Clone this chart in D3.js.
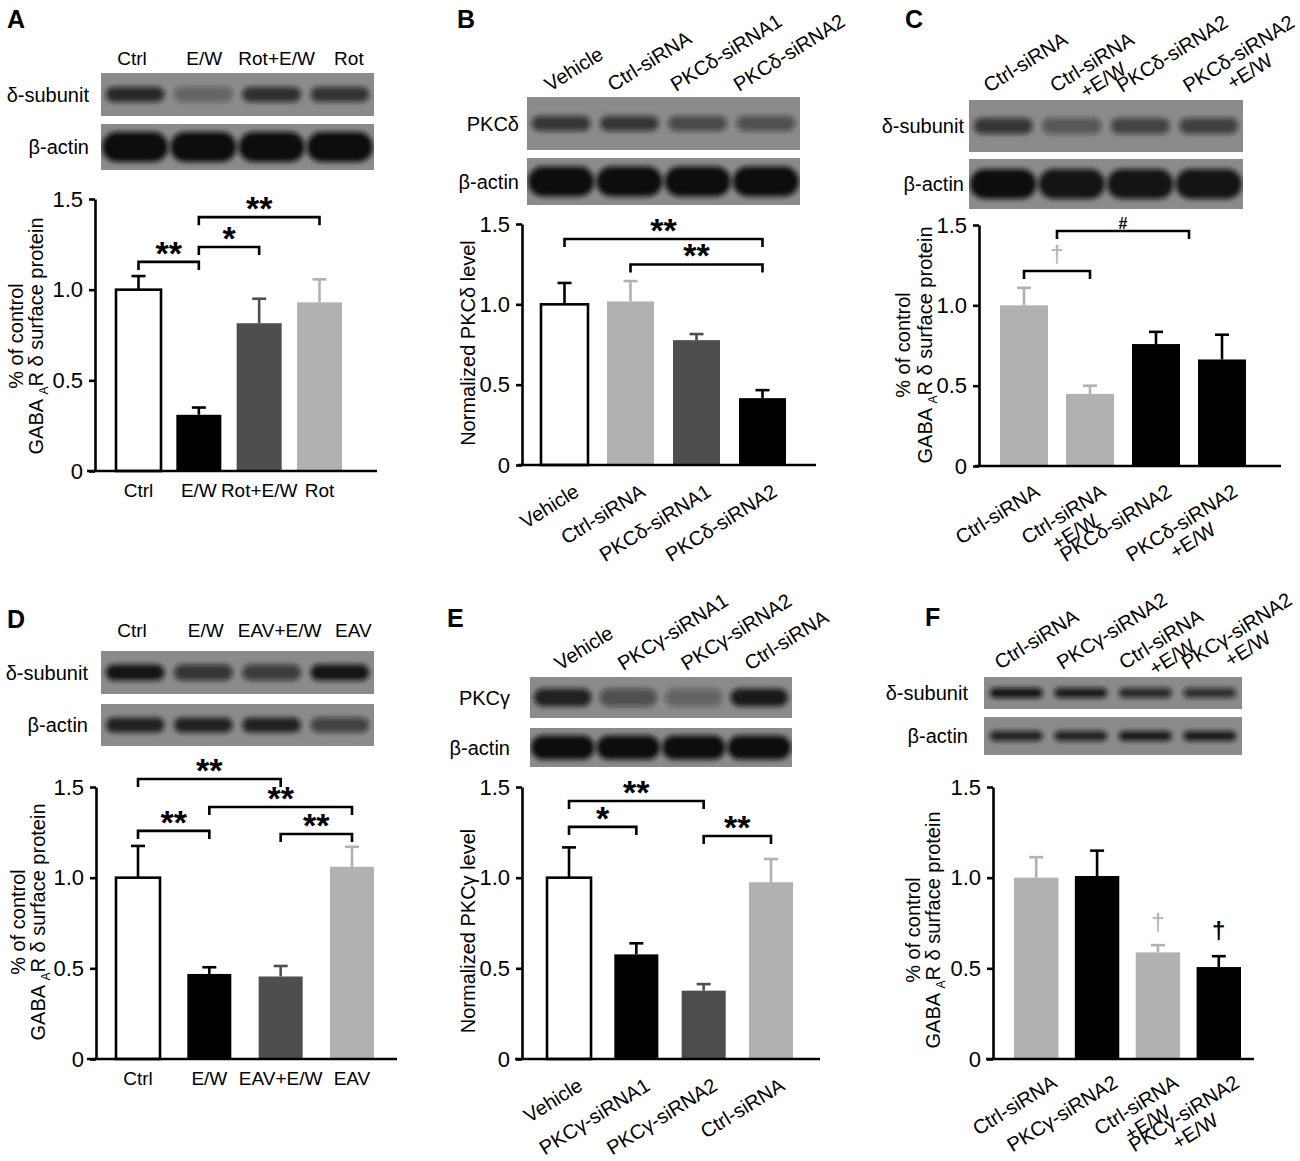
<!DOCTYPE html>
<html>
<head>
<meta charset="utf-8">
<script src="https://cdn.jsdelivr.net/npm/d3@7"></script>
<style>
  body { margin: 0; background: #fff; }
  text { font-family: "Liberation Sans", Arial, sans-serif; fill: #000; }
</style>
</head>
<body>
<svg id="fig" width="1300" height="1161"></svg>
<script>
// ---- data ----
const catA  = ['Ctrl', 'E/W', 'Rot+E/W', 'Rot'];
const meanA = [1.00, 0.31, 0.815, 0.93];
const semA  = [0.075, 0.04, 0.135, 0.127];
const sigA  = [[0, 1, '**'], [1, 2, '*'], [1, 3, '**']];
const blotA = [[0.8, 0.35, 0.75, 0.72], [1, 1, 1, 1]];

const catB  = ['Vehicle', 'Ctrl-siRNA', 'PKCδ-siRNA1', 'PKCδ-siRNA2'];
const meanB = [1.00, 1.018, 0.777, 0.416];
const semB  = [0.133, 0.127, 0.038, 0.05];
const sigB  = [[0, 3, '**'], [1, 3, '**']];
const blotB = [[0.7, 0.7, 0.55, 0.5], [1, 1, 1, 1]];

const catC  = ['Ctrl-siRNA', 'Ctrl-siRNA\n+E/W', 'PKCδ-siRNA2', 'PKCδ-siRNA2\n+E/W'];
const meanC = [1.00, 0.449, 0.759, 0.663];
const semC  = [0.109, 0.051, 0.076, 0.154];
const sigC  = [[0, 1, '†'], [0.5, 2.5, '#']];
const blotC = [[0.7, 0.45, 0.6, 0.62], [1, 0.95, 0.95, 0.95]];

const catD  = ['Ctrl', 'E/W', 'EAV+E/W', 'EAV'];
const meanD = [1.00, 0.469, 0.455, 1.06];
const semD  = [0.175, 0.037, 0.058, 0.11];
const sigD  = [[0, 2, '**'], [1, 3, '**'], [0, 1, '**'], [2, 3, '**']];
const blotD = [[0.95, 0.7, 0.65, 0.95], [0.85, 0.85, 0.85, 0.6]];

const catE  = ['Vehicle', 'PKCγ-siRNA1', 'PKCγ-siRNA2', 'Ctrl-siRNA'];
const meanE = [1.00, 0.577, 0.377, 0.975];
const semE  = [0.167, 0.061, 0.036, 0.128];
const sigE  = [[0, 2, '**'], [0, 1, '*'], [2, 3, '**']];
const blotE = [[0.85, 0.5, 0.35, 0.9], [1, 1, 1, 1]];

const catF  = ['Ctrl-siRNA', 'PKCγ-siRNA2', 'Ctrl-siRNA\n+E/W', 'PKCγ-siRNA2\n+E/W'];
const meanF = [1.00, 1.009, 0.588, 0.507];
const semF  = [0.113, 0.14, 0.04, 0.06];
const markF = [[2, '†'], [3, '†']];
const blotF = [[0.95, 0.9, 0.8, 0.75], [0.85, 0.85, 0.9, 0.9]];

const rowsDelta = ['δ-subunit', 'β-actin'];
const rowsPKCd  = ['PKCδ', 'β-actin'];
const rowsPKCg  = ['PKCγ', 'β-actin'];
const titleGABA = ['% of control', 'GABA_AR δ surface protein'];
const titlePKCd = ['Normalized PKCδ level'];
const titlePKCg = ['Normalized PKCγ level'];
const yTicks    = [0, 0.5, 1.0, 1.5];

// ---- styles ----
const FILL = { w: '#ffffff', k: '#000000', d: '#4e4e4e', l: '#b1b1b1' };
const SW = 2.6;

const svg  = d3.select('#fig');
const defs = svg.append('defs');
defs.append('filter').attr('id', 'blur')
    .attr('x', '-20%').attr('y', '-60%').attr('width', '140%').attr('height', '220%')
  .append('feGaussianBlur').attr('stdDeviation', 2.4);

// ---- layout per panel ----
const panels = [
  { id: 'A', cats: catA, mean: meanA, sem: semA, sig: sigA, blot: blotA, rows: rowsDelta, title: titleGABA,
    letter: [7, 28], colors: ['w', 'k', 'd', 'l'],
    rowBox: [[73, 116, 15, 0.86], [124, 170, 30, 0.97]], blotX: [101, 374], rowGap: 12,
    top: { mode: 'h', x0: 132, step: 72.3, y: 65 },
    chart: { axisX: 95, y0: 471, y1: 199, bars: [116, 342], pad: 0.254, xStart: 87, xEnd: 377 },
    bottom: { mode: 'h', y: 497 },
    titleX: [23, 43], titleY: 336, levels: [1.153, 1.235, 1.40] },
  { id: 'B', cats: catB, mean: meanB, sem: semB, sig: sigB, blot: blotB, rows: rowsPKCd, title: titlePKCd,
    letter: [457, 28], colors: ['w', 'l', 'd', 'k'],
    rowBox: [[97, 150, 15, 0.86], [158, 205, 30, 0.97]], blotX: [527, 800], rowGap: 8,
    top: { mode: 'r', x0: 550, step: 63, y: 92 },
    chart: { axisX: 522, y0: 465, y1: 224, bars: [541, 786], pad: 0.288, xStart: 518, xEnd: 816 },
    bottom: { mode: 'r', dx: 16, dy: 30 },
    titleX: [475], titleY: 343, levels: [1.407, 1.248] },
  { id: 'C', cats: catC, mean: meanC, sem: semC, sig: sigC, blot: blotC, rows: rowsDelta, title: titleGABA,
    letter: [905, 28], colors: ['l', 'l', 'k', 'k'],
    rowBox: [[100, 152, 16, 0.86], [159, 209, 30, 0.97]], blotX: [969, 1243], rowGap: 5,
    top: { mode: 'r', x0: 989, step: 66.5, y: 93 },
    chart: { axisX: 979, y0: 466, y1: 225, bars: [1000, 1246], pad: 0.273, xStart: 975, xEnd: 1281 },
    bottom: { mode: 'r', dx: 17, dy: 29 },
    titleX: [910, 932], titleY: 345, levels: [1.214, 1.463] },
  { id: 'D', cats: catD, mean: meanD, sem: semD, sig: sigD, blot: blotD, rows: rowsDelta, title: titleGABA,
    letter: [7, 628], colors: ['w', 'k', 'd', 'l'],
    rowBox: [[651, 694, 16, 0.86], [704, 746, 15, 0.86]], blotX: [101, 374], rowGap: 13,
    top: { mode: 'h', x0: 132, step: 73.8, y: 637 },
    chart: { axisX: 96, y0: 1059, y1: 787, bars: [116, 374], pad: 0.383, xStart: 87, xEnd: 397 },
    bottom: { mode: 'h', y: 1085 },
    titleX: [25, 45], titleY: 922, levels: [1.544, 1.39, 1.258, 1.241] },
  { id: 'E', cats: catE, mean: meanE, sem: semE, sig: sigE, blot: blotE, rows: rowsPKCg, title: titlePKCg,
    letter: [447, 627], colors: ['w', 'k', 'd', 'l'],
    rowBox: [[677, 718, 18, 0.88], [728, 767, 24, 0.97]], blotX: [530, 792], rowGap: 20,
    top: { mode: 'r', x0: 560, step: 63.3, y: 671 },
    chart: { axisX: 522, y0: 1059, y1: 787, bars: [547, 793], pad: 0.346, xStart: 515, xEnd: 820 },
    bottom: { mode: 'r', dx: 15, dy: 30 },
    titleX: [475], titleY: 931, levels: [1.423, 1.28, 1.23] },
  { id: 'F', cats: catF, mean: meanF, sem: semF, sig: [], mark: markF, blot: blotF, rows: rowsDelta, title: titleGABA,
    letter: [925, 626], colors: ['l', 'k', 'l', 'k'],
    rowBox: [[677, 709, 10, 0.82], [717, 755, 10, 0.82]], blotX: [984, 1242], rowGap: 16,
    top: { mode: 'r', x0: 1000, step: 62.3, y: 670 },
    chart: { axisX: 993, y0: 1059, y1: 787, bars: [1014, 1241], pad: 0.27, xStart: 986, xEnd: 1254 },
    bottom: { mode: 'r', dx: 22, dy: 27 },
    titleX: [920, 940], titleY: 930, levels: [] }
];

const ANGLE = -32;

function rotLabel(g, x, y, str, anchor) {
  const lines = str.split('\n');
  const t = g.append('text')
      .attr('transform', 'translate(' + x + ',' + y + ') rotate(' + ANGLE + ')')
      .attr('font-size', 20);
  const t1 = t.append('tspan').attr('x', 0).attr('text-anchor', anchor).text(lines[0]);
  if (lines.length > 1) {
    const L = t1.node().getComputedTextLength();
    t.append('tspan')
        .attr('x', anchor === 'start' ? L / 2 : -L / 2)
        .attr('dy', 21)
        .attr('text-anchor', 'middle')
        .text(lines[1]);
  }
}

function drawPanel(p) {
  const g = svg.append('g');

  g.append('text')
      .attr('x', p.letter[0]).attr('y', p.letter[1])
      .attr('font-size', 25).attr('font-weight', 'bold')
      .text(p.id);

  // western blot strips
  const lane = d3.scaleBand().domain(d3.range(p.cats.length)).range(p.blotX);
  p.rowBox.forEach((box, ri) => {
    const [ry0, ry1, bandH, frac] = box;
    const cy = (ry0 + ry1) / 2;
    const clipId = 'clip' + p.id + ri;
    defs.append('clipPath').attr('id', clipId)
      .append('rect')
        .attr('x', p.blotX[0]).attr('y', ry0)
        .attr('width', p.blotX[1] - p.blotX[0]).attr('height', ry1 - ry0);

    g.append('rect')
        .attr('x', p.blotX[0]).attr('y', ry0)
        .attr('width', p.blotX[1] - p.blotX[0]).attr('height', ry1 - ry0)
        .attr('fill', '#8b8b8b');

    g.append('g').attr('clip-path', 'url(#' + clipId + ')')
      .selectAll('rect')
      .data(p.blot[ri])
      .join('rect')
        .attr('x', (d, i) => lane(i) + lane.bandwidth() * (1 - frac) / 2)
        .attr('width', lane.bandwidth() * frac)
        .attr('y', cy - bandH / 2)
        .attr('height', bandH)
        .attr('rx', bandH / 2)
        .attr('fill', '#101010')
        .attr('fill-opacity', d => d)
        .attr('filter', 'url(#blur)');

    g.append('text')
        .attr('x', p.blotX[0] - p.rowGap).attr('y', cy)
        .attr('dy', '0.35em')
        .attr('text-anchor', 'end')
        .attr('font-size', 20)
        .text(p.rows[ri]);
  });

  // lane labels above blot
  if (p.top.mode === 'h') {
    g.selectAll('.lane')
      .data(p.cats)
      .join('text')
        .attr('x', (d, i) => p.top.x0 + i * p.top.step)
        .attr('y', p.top.y)
        .attr('text-anchor', 'middle')
        .attr('font-size', 19)
        .text(d => d);
  } else {
    p.cats.forEach((c, i) => rotLabel(g, p.top.x0 + i * p.top.step, p.top.y, c, 'start'));
  }

  // bar chart
  const c = p.chart;
  const y = d3.scaleLinear().domain([0, 1.5]).range([c.y0, c.y1]);
  const x = d3.scaleBand().domain(p.cats).range(c.bars).paddingInner(c.pad).paddingOuter(0);
  const bw = x.bandwidth();
  const cx = (i) => {
    const a = Math.floor(i), b = Math.ceil(i), t = i - a;
    const ca = x(p.cats[a]) + bw / 2, cb = x(p.cats[b]) + bw / 2;
    return ca + (cb - ca) * t;
  };

  const data = p.cats.map((cat, i) => ({ cat, i, v: p.mean[i], e: p.sem[i], col: p.colors[i] }));

  // error bars (upper half only)
  const errG = g.append('g');
  errG.selectAll('.ev')
    .data(data)
    .join('line')
      .attr('x1', d => cx(d.i)).attr('x2', d => cx(d.i))
      .attr('y1', d => y(d.v)).attr('y2', d => y(d.v + d.e))
      .attr('stroke', d => d.col === 'w' ? '#000' : FILL[d.col])
      .attr('stroke-width', SW);
  errG.selectAll('.ec')
    .data(data)
    .join('line')
      .attr('x1', d => cx(d.i) - 7).attr('x2', d => cx(d.i) + 7)
      .attr('y1', d => y(d.v + d.e)).attr('y2', d => y(d.v + d.e))
      .attr('stroke', d => d.col === 'w' ? '#000' : FILL[d.col])
      .attr('stroke-width', SW);

  g.selectAll('.bar')
    .data(data)
    .join('rect')
      .attr('x', d => x(d.cat))
      .attr('y', d => y(d.v))
      .attr('width', bw)
      .attr('height', d => y(0) - y(d.v))
      .attr('fill', d => FILL[d.col])
      .attr('stroke', d => d.col === 'w' ? '#000' : 'none')
      .attr('stroke-width', SW);

  // axes
  const yAxis = g.append('g')
      .attr('transform', 'translate(' + c.axisX + ',0)')
      .call(d3.axisLeft(y).tickValues(yTicks).tickSize(6).tickSizeOuter(0).tickPadding(6)
              .tickFormat(d => d === 0 ? '0' : d.toFixed(1)));
  yAxis.select('.domain').attr('stroke-width', SW);
  yAxis.selectAll('.tick line').attr('stroke-width', SW);
  yAxis.selectAll('.tick text')
      .attr('font-size', 22)
      .attr('font-family', '"Liberation Sans", Arial, sans-serif');

  g.append('line')
      .attr('x1', c.xStart).attr('x2', c.xEnd)
      .attr('y1', y(0)).attr('y2', y(0))
      .attr('stroke', '#000').attr('stroke-width', SW);

  // y title
  p.title.forEach((s, li) => {
    const t = g.append('text')
        .attr('transform', 'translate(' + p.titleX[li] + ',' + p.titleY + ') rotate(-90)')
        .attr('text-anchor', 'middle')
        .attr('font-size', 20);
    if (s.indexOf('_') >= 0) {
      const parts = s.split('_');
      t.append('tspan').text(parts[0] + ' ');
      t.append('tspan').attr('font-size', 12).attr('dy', 5).text(parts[1][0]);
      t.append('tspan').attr('dy', -5).text(parts[1].slice(1));
    } else {
      t.text(s);
    }
  });

  // category labels under the axis
  if (p.bottom.mode === 'h') {
    g.selectAll('.cat')
      .data(data)
      .join('text')
        .attr('x', d => cx(d.i))
        .attr('y', p.bottom.y)
        .attr('text-anchor', 'middle')
        .attr('font-size', 19)
        .text(d => d.cat);
  } else {
    data.forEach(d => rotLabel(g, cx(d.i) + p.bottom.dx, c.y0 + p.bottom.dy, d.cat, 'end'));
  }

  // significance brackets
  p.sig.forEach((s, k) => {
    const [a, b, sym] = s;
    const by = y(p.levels[k]);
    const x1 = cx(a), x2 = cx(b);
    g.append('path')
        .attr('d', 'M' + x1 + ',' + (by + 8) + 'V' + by + 'H' + x2 + 'V' + (by + 8))
        .attr('fill', 'none').attr('stroke', '#000').attr('stroke-width', SW);
    const t = g.append('text')
        .attr('x', (x1 + x2) / 2)
        .attr('text-anchor', 'middle')
        .text(sym);
    if (sym === '#') {
      t.attr('y', by - 2).attr('font-size', 16).attr('font-weight', 'bold');
    } else if (sym === '†') {
      t.attr('y', by - 9).attr('font-size', 24).style('fill', FILL[p.colors[b]]);
    } else {
      t.attr('y', by + 3).attr('font-size', 34).attr('font-weight', 'bold');
    }
  });

  // daggers over bars
  (p.mark || []).forEach(m => {
    const d = data[m[0]];
    const black = d.col === 'k';
    g.append('text')
        .attr('x', cx(d.i))
        .attr('y', y(d.v + d.e) - (black ? 17 : 15))
        .attr('text-anchor', 'middle')
        .attr('font-size', 24)
        .attr('font-weight', black ? 'bold' : 'normal')
        .style('fill', black ? '#000' : FILL[d.col])
        .text(m[1]);
  });
}

panels.forEach(drawPanel);
</script>
</body>
</html>
